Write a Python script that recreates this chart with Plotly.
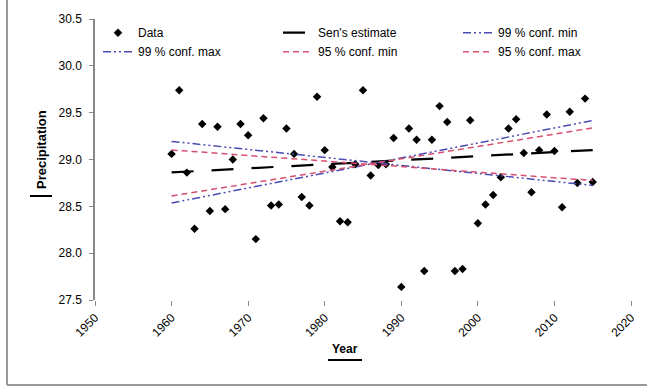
import plotly.graph_objects as go

# ---------------- data ----------------
years = list(range(1960, 2016))
values = [
    29.06, 29.74, 28.86, 28.26, 29.38, 28.45, 29.35, 28.47, 29.00, 29.38,
    29.26, 28.15, 29.44, 28.51, 28.52, 29.33, 29.06, 28.60, 28.51, 29.67,
    29.10, 28.92, 28.34, 28.33, 28.95, 29.74, 28.83, 28.94, 28.95, 29.23,
    27.64, 29.33, 29.21, 27.81, 29.21, 29.57, 29.40, 27.81, 27.83, 29.42,
    28.32, 28.52, 28.62, 28.81, 29.33, 29.43, 29.07, 28.65, 29.10, 29.48,
    29.09, 28.49, 29.51, 28.75, 29.65, 28.76,
]

# trend lines: value in first year (B) and slope per year (Q)
line_names = ["Sen's estimate", "99 % conf. min", "99 % conf. max",
              "95 % conf. min", "95 % conf. max"]
line_B = [28.862, 29.193, 28.536, 29.102, 28.611]
line_Q = [0.00434, -0.00855, 0.0160, -0.00593, 0.0132]

x_ticks = [1950, 1960, 1970, 1980, 1990, 2000, 2010, 2020]
y_ticks = [27.5, 28.0, 28.5, 29.0, 29.5, 30.0, 30.5]

# ---------------- styling ----------------
W, H = 647, 387
ML, MR, MT, MB = 95, 16, 19, 87
PW, PH = W - ML - MR, H - MT - MB
FONT = "Liberation Sans, Arial, sans-serif"

def px_x(px):
    return (px - ML) / PW

def px_y(py):
    return (H - MB - py) / PH

line_styles = [
    dict(color="black", width=2.2, dash="22px,18px"),
    dict(color="#4b4bb4", width=1.5, dash="8px,3px,2px,3px,2px,3px"),
    dict(color="#4b4bb4", width=1.5, dash="8px,3px,2px,3px,2px,3px"),
    dict(color="#d8506e", width=1.5, dash="6px,4px"),
    dict(color="#d8506e", width=1.5, dash="6px,4px"),
]
# legend column for each line (three legend columns, two rows)
line_legends = ["legend2", "legend3", "legend", "legend2", "legend3"]

fig = go.Figure()
fig.add_trace(go.Scatter(
    x=years, y=values, mode="markers", name="Data", legend="legend",
    marker=dict(symbol="diamond", size=6.5, color="black"),
))
t0 = years[0]
for name, B, Q, st, lg in zip(line_names, line_B, line_Q, line_styles, line_legends):
    ends = [years[0], years[-1]]
    fig.add_trace(go.Scatter(
        x=ends, y=[B + Q * (t - t0) for t in ends], mode="lines",
        name=name, line=st, legend=lg,
    ))

shapes = [
    # chart area border (left and bottom)
    dict(type="line", xref="paper", yref="paper", x0=px_x(7), x1=px_x(7),
         y0=px_y(0), y1=px_y(385), line=dict(color="#9a9a9a", width=2)),
    dict(type="line", xref="paper", yref="paper", x0=px_x(7), x1=px_x(647),
         y0=px_y(385), y1=px_y(385), line=dict(color="#9a9a9a", width=2)),
    # title underlines
    dict(type="line", xref="paper", yref="paper", x0=px_x(328), x1=px_x(362),
         y0=px_y(360), y1=px_y(360), line=dict(color="black", width=2)),
    dict(type="line", xref="paper", yref="paper", x0=px_x(30), x1=px_x(52),
         y0=px_y(196), y1=px_y(196), line=dict(color="black", width=2)),
]

annotations = [
    dict(text="<b>Year</b>", xref="paper", yref="paper", x=px_x(345), y=px_y(349),
         xanchor="center", yanchor="middle",
         showarrow=False, font=dict(size=12, color="black", family=FONT)),
    dict(text="<b>Precipitation</b>", xref="paper", yref="paper", x=px_x(41), y=px_y(150),
         xanchor="center", yanchor="middle",
         showarrow=False, textangle=-90, font=dict(size=13, color="black", family=FONT)),
]

def legend_col(px_left):
    return dict(orientation="v", xref="paper", yref="paper",
                x=px_x(px_left), y=1.003, xanchor="left", yanchor="top",
                bgcolor="rgba(0,0,0,0)", font=dict(size=12, family=FONT),
                tracegroupgap=0)

fig.update_layout(
    width=W, height=H,
    margin=dict(l=ML, r=MR, t=MT, b=MB, autoexpand=False),
    paper_bgcolor="white", plot_bgcolor="white",
    font=dict(family=FONT, size=12, color="black"),
    showlegend=True,
    legend=legend_col(98),
    legend2=legend_col(278),
    legend3=legend_col(458),
    xaxis=dict(range=[1950, 2020], tickvals=x_ticks, tickangle=-45,
               showgrid=False, zeroline=False, showline=False,
               ticks="outside", ticklen=5, tickcolor="#888", automargin=False),
    yaxis=dict(range=[27.5, 30.5], tickvals=y_ticks, tickformat=".1f",
               showgrid=False, zeroline=False, showline=True, linecolor="#888",
               linewidth=1.5, ticks="outside", ticklen=4, tickcolor="#888",
               ticklabelstandoff=5, automargin=False),
    shapes=shapes,
    annotations=annotations,
)

fig.write_html("out.html", config={"displayModeBar": False},
               post_script="document.body.style.margin='0px';")
